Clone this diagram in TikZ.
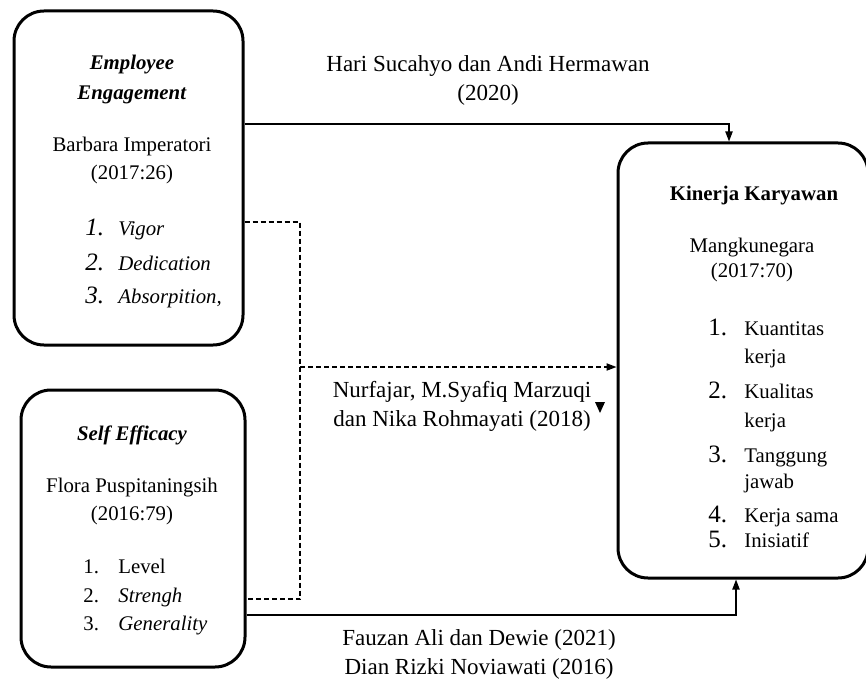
\documentclass[tikz,border=0pt]{standalone}
\usepackage{fontspec}
\setmainfont{Liberation Serif}
\usetikzlibrary{arrows.meta}

\begin{document}
\begin{tikzpicture}[
    x=0.5pt, y=-0.5pt,
    font=\fontsize{10.4}{12.5}\selectfont,
    >={Triangle[length=5pt, width=3.6pt]},
    box/.style={draw, line width=1.5pt, rounded corners=15pt, inner sep=0pt},
    txt/.style={anchor=base, inner sep=0pt},
    num/.style={anchor=base west, inner sep=0pt},
    bignum/.style={num, font=\fontsize{12.5}{14}\selectfont},
    item/.style={anchor=base west, inner sep=0pt},
    cite/.style={align=center, inner sep=0pt, font=\fontsize{11.5}{14.5}\selectfont},
    link/.style={line width=0.7pt},
    dlink/.style={link, dash pattern=on 2.5pt off 1.5pt}
]
\useasboundingbox (0,0) rectangle (866,679);

% --- Variables ---
\node[box, minimum width=114.5pt, minimum height=167pt] (ee) at (128.5,178) {};
\node[box, minimum width=112pt, minimum height=138.5pt] (se) at (133,528.5) {};
\node[box, minimum width=125pt, minimum height=217.5pt] (kk) at (743,360.5) {};

% --- Employee Engagement ---
\node[txt] (ee-t1) at (132,70) {\textbf{\textit{Employee}}};
\node[txt] (ee-t2) at (132,100) {\textbf{\textit{Engagement}}};
\node[txt] (ee-src) at (132,152) {Barbara Imperatori};
\node[txt] (ee-yr) at (132,180) {(2017:26)};
\node[bignum] (ee-n1) at (85,235) {\textit{1.}};
\node[bignum] (ee-n2) at (85,270) {\textit{2.}};
\node[bignum] (ee-n3) at (85,303) {\textit{3.}};
\node[item] (ee-i1) at (118,235) {\textit{Vigor}};
\node[item] (ee-i2) at (118,270) {\textit{Dedication}};
\node[item] (ee-i3) at (118,303) {\textit{Absorpition,}};

% --- Self Efficacy ---
\node[txt] (se-t) at (132,440) {\textbf{\textit{Self Efficacy}}};
\node[txt] (se-src) at (132,492) {Flora Puspitaningsih};
\node[txt] (se-yr) at (132,520) {(2016:79)};
\node[num] (se-n1) at (83,573) {1.};
\node[num] (se-n2) at (83,602) {2.};
\node[num] (se-n3) at (83,630) {3.};
\node[item] (se-i1) at (118,573) {Level};
\node[item] (se-i2) at (118,602) {\textit{Strengh}};
\node[item] (se-i3) at (118,630) {\textit{Generality}};

% --- Kinerja Karyawan ---
\node[txt] (kk-t) at (754,200) {\textbf{Kinerja Karyawan}};
\node[txt] (kk-src) at (752,252) {Mangkunegara};
\node[txt] (kk-yr) at (752,277) {(2017:70)};
\node[bignum] (kk-n1) at (708,335) {1.};
\node[bignum] (kk-n2) at (708,398) {2.};
\node[bignum] (kk-n3) at (708,462) {3.};
\node[bignum] (kk-n4) at (708,522) {4.};
\node[bignum] (kk-n5) at (708,547) {5.};
\node[item] (kk-i1) at (744,335) {Kuantitas};
\node[item] (kk-i1b) at (744,363) {kerja};
\node[item] (kk-i2) at (744,398) {Kualitas};
\node[item] (kk-i2b) at (744,427) {kerja};
\node[item] (kk-i3) at (744,462) {Tanggung};
\node[item] (kk-i3b) at (744,488) {jawab};
\node[item] (kk-i4) at (744,522) {Kerja sama};
\node[item] (kk-i5) at (744,547) {Inisiatif};

% --- Sources on the links ---
\node[cite] (c-hari) at (488,80) {Hari Sucahyo dan Andi Hermawan\\(2020)};
\node[cite] (c-nur) at (462,406) {Nurfajar, M.Syafiq Marzuqi\\dan Nika Rohmayati (2018)};
\node[cite] (c-fau) at (479,654) {Fauzan Ali dan Dewie (2021)\\Dian Rizki Noviawati (2016)};

% --- Links ---
\coordinate (jn) at (300,367);
\draw[link, ->] ([yshift=27pt]ee.east) -| ([xshift=-7pt]kk.north);
\draw[dlink] ([yshift=-22pt]ee.east) -| (jn) |- ([yshift=-35.25pt]se.east);
\draw[dlink, ->] (jn) -- (jn -| kk.west);
\draw[link, ->] ([yshift=-43.25pt]se.east) -| ([xshift=-3.5pt]kk.south);
\fill (595,402) -- (605,402) -- (600,413) -- cycle;

\end{tikzpicture}
\end{document}
